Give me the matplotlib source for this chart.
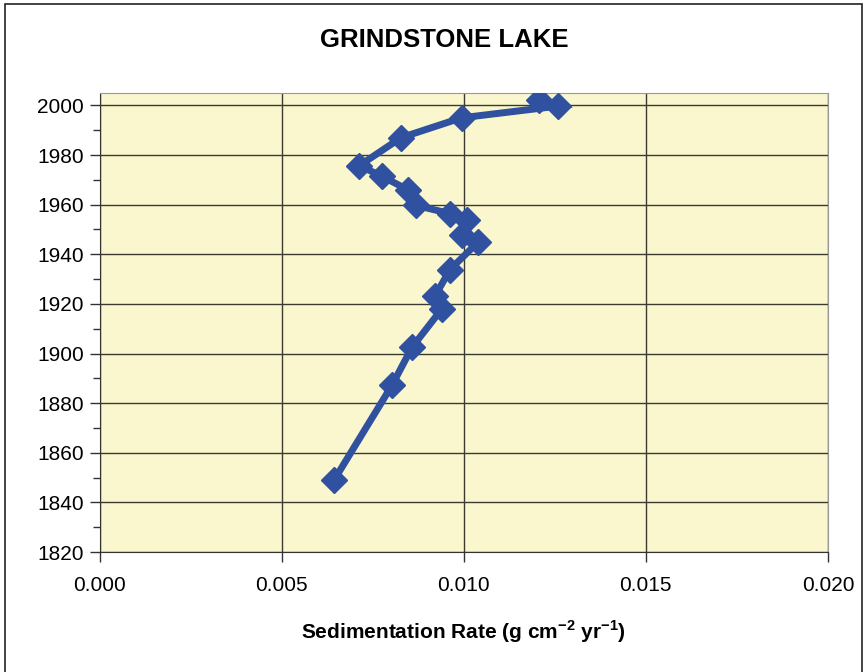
import matplotlib.pyplot as plt
from matplotlib.ticker import MultipleLocator
from matplotlib.patches import Rectangle

plt.rcParams['font.family'] = ['Liberation Sans', 'DejaVu Sans']
plt.rcParams['mathtext.fontset'] = 'custom'
plt.rcParams['mathtext.rm'] = 'Liberation Sans'
plt.rcParams['mathtext.bf'] = 'Liberation Sans:bold'

# sedimentation rate (g cm-2 yr-1) vs year
rate = [0.00644, 0.00803, 0.00858, 0.00939, 0.00921, 0.00962, 0.01040, 0.00994,
        0.01008, 0.00962, 0.00869, 0.00846, 0.00775, 0.00713, 0.00828, 0.00994,
        0.01258, 0.01207]
year = [1849.0, 1887.2, 1902.5, 1917.8, 1923.1, 1933.8, 1945.0, 1947.6,
        1953.7, 1956.4, 1959.7, 1966.0, 1971.5, 1975.7, 1987.0, 1995.0,
        1999.7, 2002.3]
xticks = [0.000, 0.005, 0.010, 0.015, 0.020]
yticks = [1820, 1840, 1860, 1880, 1900, 1920, 1940, 1960, 1980, 2000]

fig = plt.figure(figsize=(8.67, 6.72), dpi=100)
ax = fig.add_axes([99.5 / 867, 1 - 552 / 672, (828 - 99.5) / 867, (552 - 93) / 672])
ax.set_facecolor('#faf6cd')

ax.plot(rate, year, color='#3050a0', lw=5, marker='D', ms=13,
        markeredgecolor='#3050a0', zorder=3, solid_joinstyle='miter')

ax.set_xlim(0, 0.020)
ax.set_ylim(1820, 2005)
ax.set_xticks(xticks)
ax.set_xticklabels(['%.3f' % t for t in xticks])
ax.set_yticks(yticks)
ax.yaxis.set_minor_locator(MultipleLocator(10))
ax.grid(True, which='major', color='#3a3a30', lw=1)
ax.set_axisbelow(True)

ax.tick_params(which='major', direction='out', length=7, width=1, labelsize=15,
               color='#333333', pad=4)
ax.tick_params(which='minor', direction='out', length=5, width=1, color='#333333')
ax.tick_params(axis='x', pad=10)
for side in ['top', 'right']:
    ax.spines[side].set_color('#999999')
for side in ['left', 'bottom']:
    ax.spines[side].set_color('#333333')

ax.set_xlabel(r'Sedimentation Rate (g cm$^{\mathbf{-2}}$ yr$^{\mathbf{-1}}$)',
              fontsize=15, fontweight='bold', labelpad=17)
fig.text(444 / 867, 1 - 40 / 672, 'GRINDSTONE LAKE', fontsize=18.5,
         fontweight='bold', ha='center', va='center')

fig.patches.append(Rectangle((5 / 867, -0.01), 857 / 867, 1 - 4 / 672 + 0.01,
                             transform=fig.transFigure, fill=False,
                             edgecolor='#222222', lw=1.2))

fig.savefig('out.png', dpi=100)
